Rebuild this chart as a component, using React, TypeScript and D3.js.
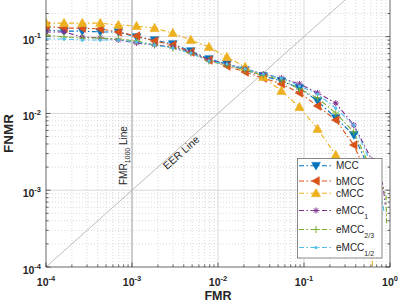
import React from 'react';
import * as d3 from 'd3';

// shared FMR operating points (marker positions)
const fmrGrid = [1e-4, 1.62e-4, 2.64e-4, 4.28e-4, 6.95e-4, 1.13e-3, 1.83e-3, 2.98e-3, 4.83e-3, 7.85e-3,
  1.27e-2, 2.07e-2, 3.36e-2, 5.46e-2, 8.86e-2, 0.144, 0.234, 0.379, 0.616];

const mccFnmr = [0.122, 0.118, 0.118, 0.115, 0.115, 0.0989, 0.0903, 0.0801, 0.0649, 0.0511,
  0.044, 0.0367, 0.0307, 0.0264, 0.0214, 0.0145, 0.0087, 0.00524, 0.00158];
const bmccFnmr = [0.137, 0.129, 0.129, 0.126, 0.115, 0.102, 0.0877, 0.0778, 0.063, 0.0496,
  0.0414, 0.0346, 0.0289, 0.0242, 0.0185, 0.0125, 0.0082, 0.00388, 0.00117];
const cmccFnmr = [0.15, 0.15, 0.15, 0.15, 0.142, 0.137, 0.129, 0.111, 0.0903, 0.0733,
  0.0542, 0.0402, 0.0298, 0.0196, 0.0121, 0.00627, 0.00287, 0.00075, 0.000166];
const emcc1Fnmr = [0.115, 0.115, 0.0989, 0.0959, 0.0903, 0.0826, 0.0778, 0.0733, 0.063, 0.0496,
  0.044, 0.0379, 0.0326, 0.0289, 0.0242, 0.0185, 0.0136, 0.00706, 0.00247];
const emcc23Fnmr = [0.105, 0.0989, 0.0959, 0.0959, 0.093, 0.0877, 0.0778, 0.0711, 0.0611, 0.0481,
  0.0427, 0.0367, 0.0316, 0.0272, 0.0208, 0.0159, 0.0101, 0.00573, 0.00183];
const emcc12Fnmr = [0.093, 0.093, 0.0903, 0.0903, 0.0903, 0.0851, 0.0778, 0.0711, 0.0611, 0.0481,
  0.044, 0.0379, 0.0326, 0.0289, 0.0228, 0.0179, 0.0117, 0.00706, 0.00213];

// end of each curve after the last marker: [fmr, fnmr]
const mccTail = [[0.81, 4.75e-4]];
const bmccTail = [[0.72, 3.0e-4]];
const cmccTail = [[0.64, 5e-5]];
const emcc1Tail = [[0.83, 1.17e-3], [0.88, 6.5e-4]];
const emcc23Tail = [[0.9, 8.7e-4], [0.915, 3.5e-4]];
const emcc12Tail = [[0.83, 6.4e-4], [0.85, 5.3e-4]];

const seriesNames = ['MCC', 'bMCC', 'cMCC', 'eMCC', 'eMCC', 'eMCC'];
const seriesSubs = ['', '', '', '1', '2/3', '1/2'];
const seriesColors = ['#0072BD', '#D95319', '#EDB120', '#7E2F8E', '#77AC30', '#4DBEEE'];
const seriesMarkers = ['v', '<', '^', '*', '+', '.'];
const seriesFnmr = [mccFnmr, bmccFnmr, cmccFnmr, emcc1Fnmr, emcc23Fnmr, emcc12Fnmr];
const seriesTails = [mccTail, bmccTail, cmccTail, emcc1Tail, emcc23Tail, emcc12Tail];

const xTickExps = [-4, -3, -2, -1, 0];
const yTickExps = [-4, -3, -2, -1];

const W = 399, H = 308;
const L = 46, R = 390, T = 0, B = 267;
const FONT = '"Liberation Sans", Arial, Helvetica, sans-serif';
const AX = '#262626';

function Marker({ type, color }: { type: string; color: string }) {
  switch (type) {
    case 'v':
      return <path d="M-4.3,-3.3L4.3,-3.3L0,4.3Z" fill={color} stroke={color} strokeWidth={0.6} />;
    case '<':
      return <path d="M-4.3,0L3.3,-4.3L3.3,4.3Z" fill={color} stroke={color} strokeWidth={0.6} />;
    case '^':
      return <path d="M-4.6,3.4L4.6,3.4L0,-4.8Z" fill={color} stroke={color} strokeWidth={0.6} />;
    case '*':
      return <path d="M-3,0H3M0,-3V3M-2.2,-2.2L2.2,2.2M-2.2,2.2L2.2,-2.2" stroke={color} strokeWidth={1} fill="none" />;
    case '+':
      return <path d="M-3.5,0H3.5M0,-3.5V3.5" stroke={color} strokeWidth={1} fill="none" />;
    default:
      return <circle r={1.6} fill={color} />;
  }
}

export default function App() {
  const x = d3.scaleLog().domain([1e-4, 1]).range([L, R]);
  const y = d3.scaleLog().domain([1e-4, 0.3]).range([B, T]);

  const minorX: number[] = [];
  const minorY: number[] = [];
  for (let e = -4; e <= -1; e++) {
    for (let m = 2; m <= 9; m++) {
      const v = m * Math.pow(10, e);
      minorX.push(v);
      if (v < 0.3) minorY.push(v);
    }
  }
  const majorGrid = [1e-3, 1e-2, 1e-1];

  const line = d3.line<number[]>().x(d => x(d[0])).y(d => y(d[1]));
  const dash = '5,2.5,1.5,2.5';

  const legendRows = [165.7, 181, 193.3, 210.5, 229.5, 247.5];

  // EER text angle follows the diagonal on screen
  const eerAngle = -Math.atan2(y(1e-4) - y(1e-3), x(1e-3) - x(1e-4)) * 180 / Math.PI;

  return (
    <svg width={W} height={H} style={{ position: 'absolute', left: 0, top: 0, background: '#fff' }}
      fontFamily={FONT}>
      <defs>
        <clipPath id="plot"><rect x={L} y={T} width={R - L} height={B - T} /></clipPath>
      </defs>
      <rect x={0} y={0} width={W} height={H} fill="#fff" />

      {/* grid */}
      <g stroke="#cfcfcf" strokeWidth={0.8} strokeDasharray="1,2">
        {minorX.map(v => <line key={'mx' + v} x1={x(v)} x2={x(v)} y1={T} y2={B} />)}
        {minorY.map(v => <line key={'my' + v} x1={L} x2={R} y1={y(v)} y2={y(v)} />)}
      </g>
      <g stroke="#d9d9d9" strokeWidth={1}>
        {majorGrid.map(v => <line key={'gx' + v} x1={x(v)} x2={x(v)} y1={T} y2={B} />)}
        {majorGrid.map(v => <line key={'gy' + v} x1={L} x2={R} y1={y(v)} y2={y(v)} />)}
      </g>

      {/* reference lines */}
      <g clipPath="url(#plot)">
        <line x1={x(1e-3)} x2={x(1e-3)} y1={T} y2={B} stroke="#ababab" strokeWidth={1} />
        <line x1={x(1e-4)} y1={y(1e-4)} x2={x(1)} y2={y(1)} stroke="#bdbdbd" strokeWidth={1} />
      </g>
      <text transform={`translate(126.5,185) rotate(-90)`} fontSize={10} fill={AX}>
        FMR<tspan dy={3} fontSize={7}>1000</tspan><tspan dy={-3}> Line</tspan>
      </text>
      <text transform={`translate(167,170) rotate(${eerAngle})`} fontSize={10.5} fill={AX}>EER Line</text>

      {/* curves */}
      <g clipPath="url(#plot)">
        {seriesFnmr.map((fn, i) => {
          const pts = fmrGrid.map((f, k) => [f, fn[k]]).concat(seriesTails[i]);
          return (
            <path key={'l' + i} d={line(pts) || ''} fill="none" stroke={seriesColors[i]}
              strokeWidth={1.1} strokeDasharray={dash} />
          );
        })}
        {seriesFnmr.map((fn, i) => (
          <g key={'m' + i}>
            {fmrGrid.map((f, k) => (
              <g key={k} transform={`translate(${x(f)},${y(fn[k])})`}>
                <Marker type={seriesMarkers[i]} color={seriesColors[i]} />
              </g>
            ))}
          </g>
        ))}
      </g>

      {/* axes box and ticks */}
      <g stroke={AX} strokeWidth={0.7} fill="none">
        <line x1={L} x2={L} y1={T} y2={B} />
        <line x1={L} x2={R} y1={B} y2={B} />
        <line x1={R} x2={R} y1={T} y2={B} />
        {xTickExps.map(e => <line key={'tx' + e} x1={x(Math.pow(10, e))} x2={x(Math.pow(10, e))} y1={B} y2={B - 4.5} />)}
        {minorX.map(v => <line key={'tmx' + v} x1={x(v)} x2={x(v)} y1={B} y2={B - 2.5} />)}
        {yTickExps.map(e => (
          <g key={'ty' + e}>
            <line x1={L} x2={L + 4.5} y1={y(Math.pow(10, e))} y2={y(Math.pow(10, e))} />
            <line x1={R} x2={R - 4.5} y1={y(Math.pow(10, e))} y2={y(Math.pow(10, e))} />
          </g>
        ))}
        {minorY.map(v => (
          <g key={'tmy' + v}>
            <line x1={L} x2={L + 2.5} y1={y(v)} y2={y(v)} />
            <line x1={R} x2={R - 2.5} y1={y(v)} y2={y(v)} />
          </g>
        ))}
      </g>

      {/* tick labels */}
      <g fontSize={10.5} fontWeight="bold" fill={AX}>
        {xTickExps.map(e => (
          <text key={'lx' + e} x={x(Math.pow(10, e))} y={285.5} textAnchor="middle">
            10<tspan dy={-5} fontSize={7.5}>{e}</tspan>
          </text>
        ))}
        {yTickExps.map(e => (
          <text key={'ly' + e} x={41} y={y(Math.pow(10, e)) + 7} textAnchor="end">
            10<tspan dy={-5.5} fontSize={7.5}>{e}</tspan>
          </text>
        ))}
      </g>

      {/* axis titles */}
      <text x={(L + R) / 2} y={299.5} textAnchor="middle" fontSize={12.5} fontWeight="bold" fill={AX}>FMR</text>
      <text transform={`translate(13,${(T + B) / 2}) rotate(-90)`} textAnchor="middle" fontSize={13.5}
        fontWeight="bold" fill={AX}>FNMR</text>

      {/* legend */}
      <rect x={297.5} y={158.5} width={84.5} height={99.5} fill="#fff" stroke="#6b6b6b" strokeWidth={0.8} />
      {seriesNames.map((name, i) => (
        <g key={'lg' + i}>
          <line x1={299} x2={333} y1={legendRows[i]} y2={legendRows[i]} stroke={seriesColors[i]}
            strokeWidth={1.1} strokeDasharray={dash} />
          <g transform={`translate(316,${legendRows[i]})`}>
            <Marker type={seriesMarkers[i]} color={seriesColors[i]} />
          </g>
          <text x={336} y={legendRows[i] + 3.5} fontSize={10} fill={AX}>
            {name}
            {seriesSubs[i] && <tspan dy={4.5} fontSize={7}>{seriesSubs[i]}</tspan>}
          </text>
        </g>
      ))}
    </svg>
  );
}
